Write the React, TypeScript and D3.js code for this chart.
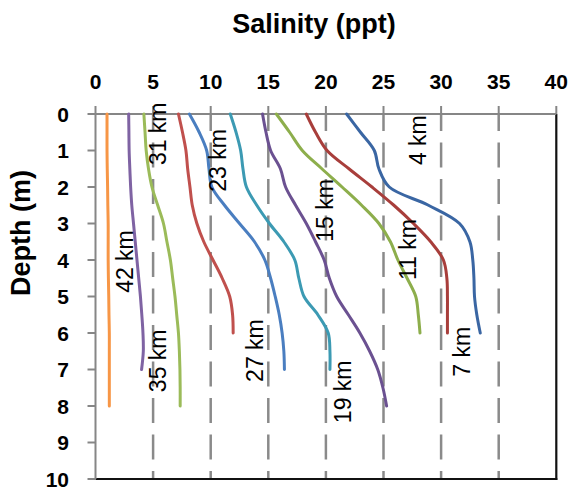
import React from "react";
import * as d3 from "d3";

// ---- data (salinity in ppt, sampled every 0.5 m of depth starting at 0 m) ----
const salinityTicks = [0, 5, 10, 15, 20, 25, 30, 35, 40];
const depthTicks = [0, 1, 2, 3, 4, 5, 6, 7, 8, 9, 10];
const depthStep = 0.5;

const s4km = [21.8, 23.0, 24.2, 24.6, 25.5, 28.9, 31.6, 32.5, 32.75, 32.85, 32.9, 33.1, 33.4];
const s7km = [18.3, 19.1, 20.1, 22.0, 24.0, 25.9, 27.6, 29.1, 30.2, 30.5, 30.55, 30.55, 30.55];
const s11km = [15.7, 16.85, 17.95, 19.65, 21.4, 23.1, 24.6, 25.6, 26.25, 27.05, 27.8, 28.02, 28.17];
const s15km = [14.5, 14.8, 15.2, 16.05, 16.5, 17.37, 18.3, 19.1, 19.85, 20.3, 20.94, 21.95, 22.95, 23.8, 24.5, 24.95, 25.27];
const s19km = [11.7, 12.2, 12.6, 12.8, 13.1, 14.0, 15.1, 16.35, 17.3, 17.65, 18.1, 19.3, 20.2, 20.35, 20.35];
const s23km = [8.15, 9.0, 9.65, 9.85, 10.1, 11.2, 12.5, 13.8, 14.7, 15.2, 15.6, 15.95, 16.2, 16.35, 16.4];
const s27km = [7.2, 7.55, 7.85, 8.0, 8.2, 8.4, 8.8, 9.4, 10.2, 11.0, 11.65, 11.9, 11.95];
const s31km = [4.2, 4.3, 4.4, 4.6, 4.9, 5.4, 5.9, 6.2, 6.5, 6.7, 6.9, 7.05, 7.2, 7.28, 7.33, 7.35, 7.35];
const s35km = [2.88, 2.9, 2.92, 2.98, 3.05, 3.15, 3.3, 3.45, 3.6, 3.75, 3.9, 4.02, 4.12, 4.15, 4.0];
const s42km = [1.0, 1.0, 1.0, 1.02, 1.05, 1.07, 1.1, 1.1, 1.1, 1.12, 1.15, 1.17, 1.2, 1.2, 1.2, 1.2, 1.2];

const seriesValues = [s4km, s7km, s11km, s15km, s19km, s23km, s27km, s31km, s35km, s42km];
const seriesColors = ["#3A66A3", "#A83E3B", "#8DAE4C", "#6B5191", "#3C9AB3", "#4A7EC0", "#C0504D", "#9BBB59", "#7F63A3", "#F79646"];

// label text and anchor (salinity, depth) where each rotated label begins
const labelTexts = ["4 km", "7 km", "11 km", "15 km", "19 km", "23 km", "27 km", "31 km", "35 km", "42 km"];
const labelSalinity = [28.73, 32.51, 27.86, 20.62, 22.22, 11.37, 14.54, 6.16, 6.16, 3.26];
const labelDepth = [1.4, 7.2, 4.55, 3.5, 8.47, 2.13, 7.34, 1.4, 7.62, 4.9];

const W = 578;
const H = 488;
const left = 95.5;
const right = 556.3;
const top = 114;
const bottom = 479;

export default function App() {
  React.useEffect(() => {
    document.body.style.margin = "0";
  }, []);

  const x = d3.scaleLinear().domain([0, 40]).range([left, right]);
  const y = d3.scaleLinear().domain([0, 10]).range([top, bottom]);

  const line = d3
    .line<number>()
    .x((v) => x(v))
    .y((_, i) => y(i * depthStep))
    .curve(d3.curveCatmullRom.alpha(0.5));

  const font = "'Liberation Sans', Arial, sans-serif";
  const axisGray = "#868686";

  return (
    <svg width={W} height={H} style={{ position: "absolute", left: 0, top: 0, background: "#fff" }}>
      {/* dashed vertical gridlines */}
      {salinityTicks
        .filter((t) => t > 0 && t < 40)
        .map((t) => (
          <line
            key={"g" + t}
            x1={x(t)}
            x2={x(t)}
            y1={y(0)}
            y2={y(10)}
            stroke="#8a8a8a"
            strokeWidth={2.5}
            strokeDasharray="25,11.5"
            strokeDashoffset={8}
          />
        ))}
      {/* plot border right & bottom */}
      <line x1={x(40)} x2={x(40)} y1={y(0)} y2={y(10) + 1} stroke="#111" strokeWidth={2.2} />
      <line x1={x(0)} x2={x(40) + 1} y1={y(10)} y2={y(10)} stroke="#111" strokeWidth={2.2} />
      {/* top axis */}
      <line x1={x(0)} x2={x(40)} y1={y(0)} y2={y(0)} stroke={axisGray} strokeWidth={2} />
      {salinityTicks.map((t) => (
        <line key={"tx" + t} x1={x(t)} x2={x(t)} y1={y(0) - 8} y2={y(0)} stroke={axisGray} strokeWidth={2} />
      ))}
      {salinityTicks.map((t) => (
        <text
          key={"lx" + t}
          x={x(t)}
          y={89}
          textAnchor="middle"
          fontFamily={font}
          fontWeight="bold"
          fontSize={21}
          fill="#000"
        >
          {t}
        </text>
      ))}
      {/* left axis */}
      <line x1={x(0)} x2={x(0)} y1={y(0)} y2={y(10)} stroke={axisGray} strokeWidth={2} />
      {depthTicks.map((t) => (
        <line key={"ty" + t} x1={x(0) - 8} x2={x(0)} y1={y(t)} y2={y(t)} stroke={axisGray} strokeWidth={2} />
      ))}
      {depthTicks.map((t) => (
        <text
          key={"ly" + t}
          x={69}
          y={y(t)}
          dy="0.36em"
          textAnchor="end"
          fontFamily={font}
          fontWeight="bold"
          fontSize={21}
          fill="#000"
        >
          {t}
        </text>
      ))}
      {/* series */}
      {seriesValues.map((vals, i) => (
        <path
          key={"s" + i}
          d={line(vals) || ""}
          fill="none"
          stroke={seriesColors[i]}
          strokeWidth={3}
          strokeLinecap="round"
          strokeLinejoin="round"
        />
      ))}
      {/* series labels */}
      {labelTexts.map((t, i) => (
        <text
          key={"lab" + i}
          transform={`translate(${x(labelSalinity[i])},${y(labelDepth[i])}) rotate(-90)`}
          fontFamily={font}
          fontSize={23}
          fill="#000"
        >
          {t}
        </text>
      ))}
      {/* titles */}
      <text x={314} y={33} textAnchor="middle" fontFamily={font} fontWeight="bold" fontSize={27} fill="#000">
        Salinity (ppt)
      </text>
      <text
        transform="translate(30,233) rotate(-90)"
        textAnchor="middle"
        fontFamily={font}
        fontWeight="bold"
        fontSize={27}
        fill="#000"
      >
        Depth (m)
      </text>
    </svg>
  );
}
